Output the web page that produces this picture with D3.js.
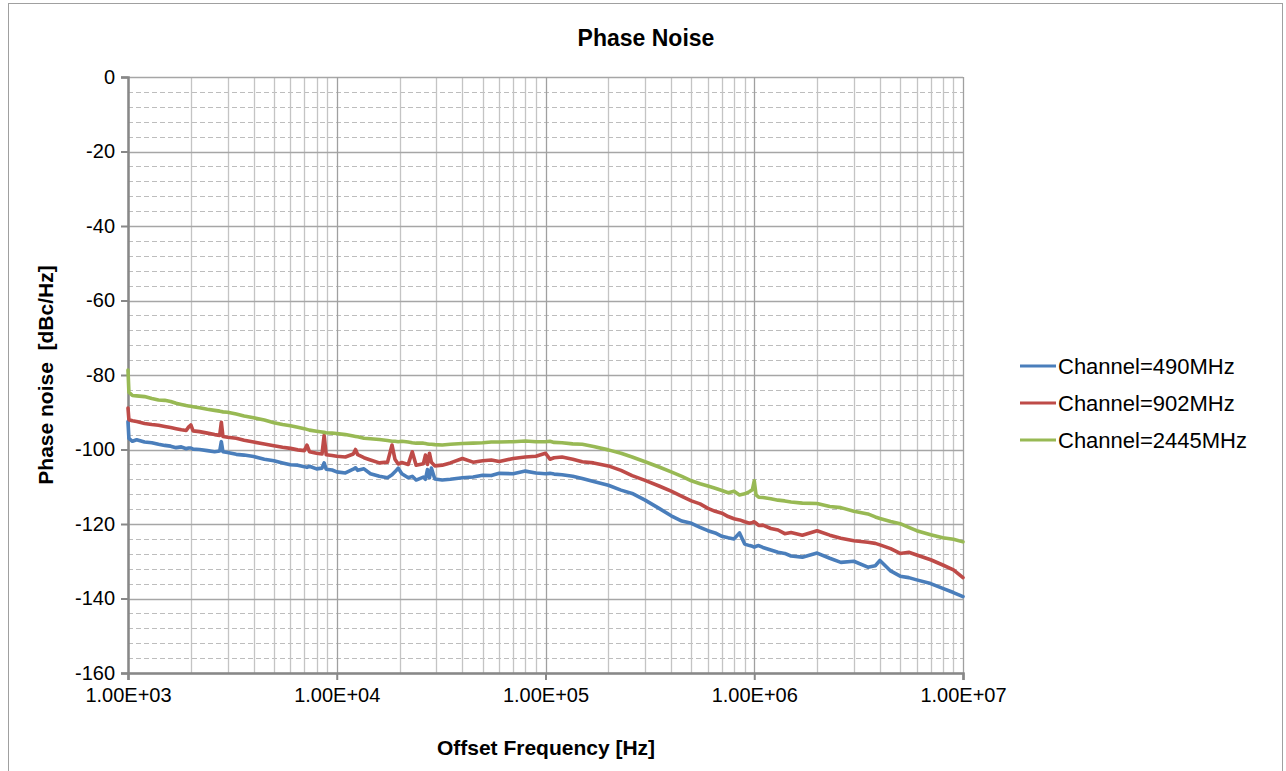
<!DOCTYPE html>
<html>
<head>
<meta charset="utf-8">
<script src="https://cdn.jsdelivr.net/npm/d3@7"></script>
<style>
  html, body { margin: 0; padding: 0; background: #fff; }
  svg { display: block; font-family: "Liberation Sans", Arial, sans-serif; }
</style>
</head>
<body>
<svg id="chart" width="1286" height="771"></svg>
<script>
// ---------- data ----------
const chartTitle = "Phase Noise";
const xAxisTitle = "Offset Frequency [Hz]";
const yAxisTitle = "Phase noise  [dBc/Hz]";

const seriesNames = ["Channel=490MHz", "Channel=902MHz", "Channel=2445MHz"];
const seriesColors = ["#4a7ebb", "#be4b48", "#98b954"];

const xTickValues = [1e3, 1e4, 1e5, 1e6, 1e7];
const xTickLabels = ["1.00E+03", "1.00E+04", "1.00E+05", "1.00E+06", "1.00E+07"];
const yTickValues = [0, -20, -40, -60, -80, -100, -120, -140, -160];
const yTickLabels = ["0", "-20", "-40", "-60", "-80", "-100", "-120", "-140", "-160"];

const freqHz = [
  1000, 1010, 1050, 1100, 1200, 1300, 1400, 1500, 1600, 1700, 1800, 1900, 1950, 2000, 2050,
  2200, 2400, 2600, 2750, 2800, 2850, 3000, 3300, 3600, 4000, 4500, 5000, 5500, 6000, 6500,
  7000, 7200, 7400, 8000, 8500, 8700, 8900, 9500,
  10000, 11000, 12000, 12300, 12600, 13500, 14500, 16000, 17500, 18400, 19000, 19700, 20500,
  22000, 23000, 24000, 26000, 26600, 27200, 27800, 28400, 29500, 32000, 35000, 40000, 45000,
  50000, 55000, 60000, 70000, 80000, 90000,
  100000, 105000, 110000, 120000, 135000, 150000, 170000, 200000, 230000, 260000, 300000,
  350000, 400000, 450000, 500000, 550000, 600000, 650000, 700000, 750000, 800000, 850000,
  900000, 950000, 980000,
  1000000, 1020000, 1050000, 1100000, 1200000, 1300000, 1400000, 1500000, 1700000, 2000000,
  2300000, 2600000, 3000000, 3500000, 3800000, 4000000, 4500000, 5000000, 5500000, 6000000,
  7000000, 8000000, 9000000, 10000000
];

const pn490 = [
  -92.5, -97.0, -97.8, -97.4, -98.0, -98.2, -98.6, -98.9, -99.1, -99.5, -99.3, -99.8, -99.6, -99.6, -99.9,
  -100.0, -100.3, -100.6, -100.4, -97.9, -100.6, -100.8, -101.3, -101.5, -101.9, -102.6, -103.0, -103.6, -104.1, -104.2,
  -104.6, -104.8, -104.5, -105.2, -105.0, -103.6, -105.3, -105.5,
  -106.0, -106.3, -105.3, -104.9, -105.6, -105.2, -106.5, -107.2, -107.6, -106.8, -106.0, -105.0, -106.5,
  -107.6, -107.2, -108.2, -107.4, -108.0, -105.4, -107.6, -105.0, -107.9, -108.2, -108.0, -107.6, -107.4,
  -106.9, -107.0, -106.4, -106.5, -105.8, -106.3,
  -106.5, -106.4, -106.6, -106.8, -107.2, -107.8, -108.6, -109.6, -110.9, -111.8, -113.6,
  -115.8, -117.8, -119.2, -119.8, -120.9, -121.8, -122.4, -123.3, -123.7, -124.0, -122.4,
  -125.4, -125.8, -126.0,
  -126.2, -126.0, -125.8, -126.3, -127.0, -127.6, -127.9, -128.6, -128.9, -127.8,
  -129.2, -130.3, -130.0, -131.6, -131.2, -129.8, -132.6, -134.0, -134.4, -135.0,
  -136.0, -137.3, -138.4, -139.5
];

const pn902 = [
  -88.9, -92.0, -92.3, -92.5, -93.0, -93.3, -93.5, -93.8, -94.1, -94.4, -94.7, -94.9, -94.0, -93.4, -95.0,
  -95.2, -95.6, -96.0, -96.2, -92.7, -96.5, -96.7, -97.0, -97.5, -98.0, -98.5, -99.0, -99.4, -99.7, -100.1,
  -100.3, -98.8, -100.6, -101.0, -101.2, -96.2, -101.4, -101.6,
  -101.8, -102.0, -101.2, -100.0, -101.4, -102.2, -102.8, -103.6, -103.4, -98.8, -102.6, -103.9, -103.5,
  -104.0, -100.6, -104.2, -103.8, -101.5, -104.0, -101.0, -103.4, -104.4, -104.2, -103.6, -102.4, -103.4,
  -103.0, -102.8, -103.2, -102.4, -102.0, -101.8,
  -101.0, -102.6, -102.2, -102.0, -102.6, -103.3, -103.6, -104.4, -105.6, -107.0, -108.3,
  -109.8, -111.2, -112.6, -113.8, -114.6, -115.8, -116.6, -117.1, -118.0, -118.6, -118.9,
  -119.4, -119.8, -119.6,
  -119.4, -119.8, -120.4, -120.3, -121.2, -121.6, -122.6, -122.3, -123.0, -121.8,
  -123.0, -123.8, -124.5, -124.9, -125.2, -125.6, -126.6, -127.9, -127.6, -128.3,
  -129.6, -131.0, -132.3, -134.4
];

const pn2445 = [
  -78.7, -84.6, -85.5, -85.6, -85.8, -86.3, -86.7, -86.8, -87.1, -87.6, -87.9, -88.2, -88.3, -88.4, -88.5,
  -88.8, -89.2, -89.5, -89.7, -89.8, -89.9, -90.0, -90.5, -91.0, -91.5, -92.1, -92.8, -93.3, -93.6, -94.0,
  -94.4, -94.6, -94.8, -95.1, -95.3, -95.4, -95.5, -95.6,
  -95.7, -96.0, -96.4, -96.5, -96.6, -97.0, -97.1, -97.3, -97.6, -97.8, -97.8, -97.9, -97.8,
  -98.0, -98.2, -98.3, -98.3, -98.4, -98.5, -98.6, -98.6, -98.7, -98.8, -98.6, -98.4, -98.3,
  -98.2, -98.0, -98.0, -97.9, -97.7, -97.9,
  -97.9, -97.8, -98.1, -98.2, -98.5, -98.6, -99.2, -100.1, -101.0, -102.0, -103.3,
  -104.7, -106.0, -107.2, -108.4, -109.2, -109.8, -110.4, -111.0, -111.6, -111.2, -112.2,
  -111.9, -111.3, -110.8,
  -108.4, -112.2, -112.8, -112.9, -113.2, -113.6, -113.8, -114.1, -114.4, -114.5,
  -115.3, -115.6, -116.6, -117.3, -118.1, -118.5, -119.3, -119.9, -120.9, -121.8,
  -122.9, -123.7, -124.1, -124.8
];

const seriesValues = [pn490, pn902, pn2445];

// ---------- drawing ----------
const svg = d3.select("#chart");
const plot = { left: 128, right: 963, top: 77, bottom: 673 };

const x = d3.scaleLog().domain([1e3, 1e7]).range([plot.left, plot.right]);
const y = d3.scaleLinear().domain([-160, 0]).range([plot.bottom, plot.top]);

// outer chart frame
svg.append("rect")
  .attr("x", 8.5).attr("y", 3.5).attr("width", 1274).attr("height", 800)
  .attr("fill", "#fff").attr("stroke", "#a0a0a0").attr("stroke-width", 1);

// title
svg.append("text")
  .attr("x", 646).attr("y", 46)
  .attr("text-anchor", "middle")
  .attr("font-weight", "bold").attr("font-size", 23)
  .text(chartTitle);

const grid = svg.append("g");

// minor horizontal gridlines (dashed, every 4 dB)
const minorY = d3.range(-156, 0, 4).filter(v => v % 20 !== 0);
grid.selectAll("line.hmin").data(minorY).join("line")
  .attr("x1", plot.left).attr("x2", plot.right)
  .attr("y1", d => Math.round(y(d)) + 0.5).attr("y2", d => Math.round(y(d)) + 0.5)
  .attr("stroke", "#bdbdbd").attr("stroke-width", 1).attr("stroke-dasharray", "5,3");

// minor vertical gridlines (2..9 per decade)
const minorX = [];
for (let e = 3; e < 7; e++) for (let m = 2; m <= 9; m++) minorX.push(m * Math.pow(10, e));
grid.selectAll("line.vmin").data(minorX).join("line")
  .attr("x1", d => Math.round(x(d)) + 0.5).attr("x2", d => Math.round(x(d)) + 0.5)
  .attr("y1", plot.top).attr("y2", plot.bottom)
  .attr("stroke", "#c4c4c4").attr("stroke-width", 1.3);

// major horizontal gridlines
grid.selectAll("line.hmaj").data(yTickValues).join("line")
  .attr("x1", plot.left).attr("x2", plot.right)
  .attr("y1", d => Math.round(y(d)) + 0.5).attr("y2", d => Math.round(y(d)) + 0.5)
  .attr("stroke", "#a6a6a6").attr("stroke-width", 1.3);

// major vertical gridlines
grid.selectAll("line.vmaj").data(xTickValues).join("line")
  .attr("x1", d => Math.round(x(d)) + 0.5).attr("x2", d => Math.round(x(d)) + 0.5)
  .attr("y1", plot.top).attr("y2", plot.bottom)
  .attr("stroke", "#a0a0a0").attr("stroke-width", 1.3);

// axes
const yAxis = d3.axisLeft(y).tickValues(yTickValues).tickSize(7).tickPadding(6)
  .tickFormat((d, i) => yTickLabels[i]);
const gy = svg.append("g").attr("transform", `translate(${plot.left},0)`).call(yAxis);
gy.select(".domain").attr("stroke", "#888").attr("stroke-width", 2.5);
gy.selectAll(".tick line").attr("stroke", "#888").attr("stroke-width", 2);
gy.selectAll(".tick text").attr("font-size", 20).attr("fill", "#000")
  .attr("font-family", "'Liberation Sans', Arial, sans-serif");

const xAxis = d3.axisBottom(x).tickValues(xTickValues).tickSize(7).tickPadding(8)
  .tickFormat((d, i) => xTickLabels[i]);
const gx = svg.append("g").attr("transform", `translate(0,${plot.bottom})`).call(xAxis);
gx.select(".domain").attr("stroke", "#888").attr("stroke-width", 2.5);
gx.selectAll(".tick line").attr("stroke", "#888").attr("stroke-width", 2);
gx.selectAll(".tick text").attr("font-size", 20).attr("fill", "#000")
  .attr("font-family", "'Liberation Sans', Arial, sans-serif");

// axis titles
svg.append("text")
  .attr("x", 546).attr("y", 755)
  .attr("text-anchor", "middle").attr("font-weight", "bold").attr("font-size", 21)
  .text(xAxisTitle);

svg.append("text")
  .attr("transform", "translate(53,375) rotate(-90)")
  .attr("text-anchor", "middle").attr("font-weight", "bold").attr("font-size", 21)
  .attr("xml:space", "preserve").style("white-space", "pre")
  .text(yAxisTitle);

// series lines
const line = d3.line()
  .x((d, i) => x(freqHz[i]))
  .y(d => y(d));

svg.append("g").selectAll("path.series").data(seriesValues).join("path")
  .attr("fill", "none")
  .attr("stroke", (d, i) => seriesColors[i])
  .attr("stroke-width", 3.6)
  .attr("stroke-linejoin", "round")
  .attr("stroke-linecap", "round")
  .attr("d", d => line(d));

// legend
const legendY = [366, 403, 440];
const lg = svg.append("g");
seriesNames.forEach((name, i) => {
  lg.append("line")
    .attr("x1", 1020).attr("x2", 1056)
    .attr("y1", legendY[i]).attr("y2", legendY[i])
    .attr("stroke", seriesColors[i]).attr("stroke-width", 3);
  lg.append("text")
    .attr("x", 1058).attr("y", legendY[i])
    .attr("dy", "0.35em")
    .attr("font-size", 22)
    .text(name);
});
</script>
</body>
</html>
